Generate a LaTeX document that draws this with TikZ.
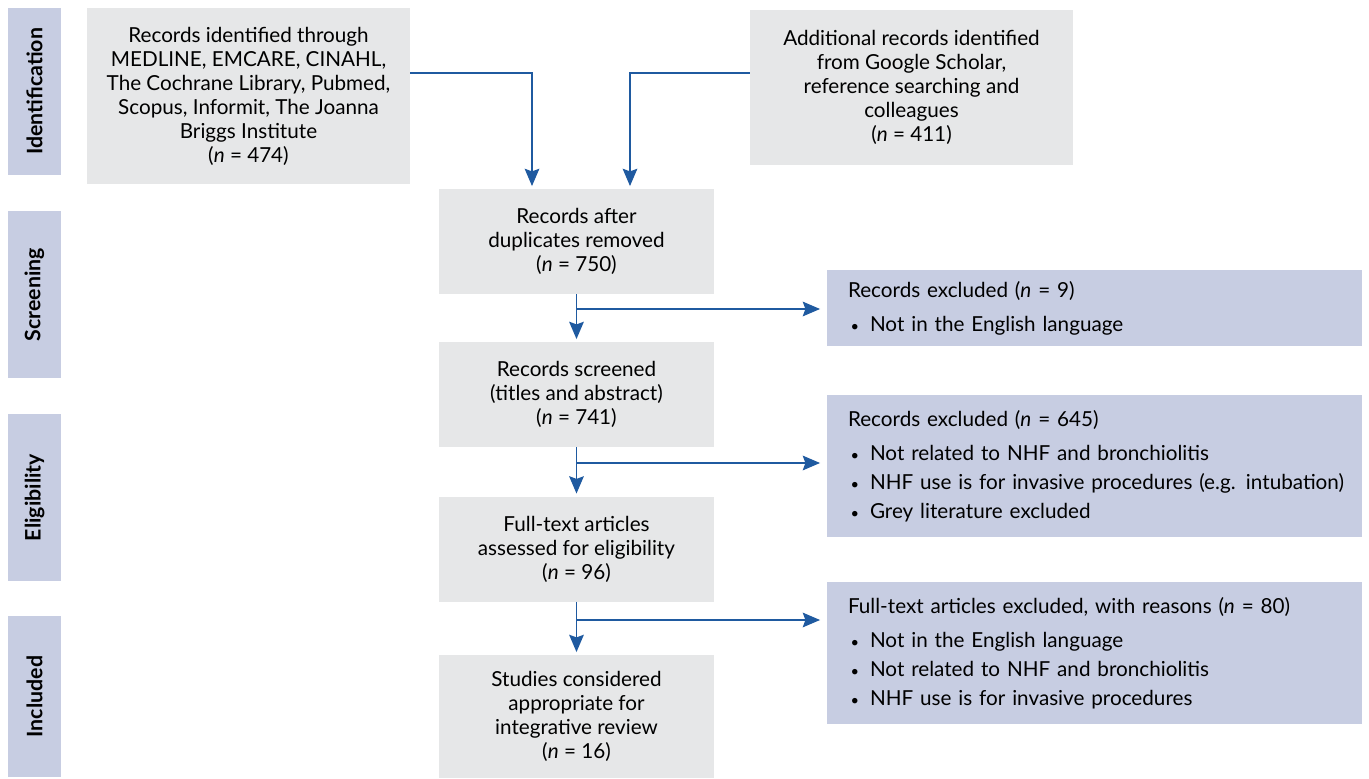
\documentclass[tikz,border=0pt]{standalone}
\usepackage{fontspec}
\setmainfont{Lato}
\usepackage{tikz}
\usetikzlibrary{arrows.meta,calc,positioning}
\definecolor{TabBlue}{RGB}{199,205,226}
\definecolor{BoxGrey}{RGB}{230,231,232}
\definecolor{FlowBlue}{RGB}{31,90,160}
\newcommand{\nn}[1]{(\textit{n} = #1)}
\newcommand{\bl}{\makebox[16.5pt][l]{\hspace{2pt}{\fontsize{11}{11}\selectfont\textbullet}}}

\begin{document}
\begin{tikzpicture}[x=0.75pt,y=-0.75pt,
  font=\fontsize{15.5}{18}\selectfont,
  tab/.style={fill=TabBlue,minimum width=125.25pt,minimum height=39.75pt,inner sep=0pt,font=\fontsize{16}{18}\selectfont\bfseries},
  rec/.style={fill=BoxGrey,align=center,inner sep=0pt,minimum width=206.25pt,minimum height=78.75pt},
  excl/.style={fill=TabBlue,align=left,inner xsep=15.75pt,inner ysep=0pt,text width=369.75pt,minimum height=106.5pt,font=\fontsize{15.5}{21.75}\selectfont},
  flow/.style={draw=FlowBlue,line width=1.1pt,-{Stealth[length=13pt,width=11pt,inset=2pt]},shorten >=2pt}]
\useasboundingbox (0,0) rectangle (1369,778);
% stage tabs
\node[tab,rotate=90] (tid) at (34.5,91.5) {Identification};
\node[tab,rotate=90] (tsc) at (34.5,294.5) {Screening};
\node[tab,rotate=90] (tel) at (34.5,497.5) {Eligibility};
\node[tab,rotate=90,minimum width=120.75pt] (tin) at (34.5,696.5) {Included};
% main boxes
\node[rec,minimum width=242.25pt,minimum height=132pt] (found) at (248.5,96) {Records identified through\\MEDLINE, EMCARE, CINAHL,\\The Cochrane Library, Pubmed,\\Scopus, Informit, The Joanna\\Briggs Institute\\\nn{474}};
\node[rec,minimum width=242.25pt,minimum height=116.25pt] (extra) at (911.5,87.5) {Additional records identified\\from Google Scholar,\\reference searching and\\colleagues\\\nn{411}};
\node[rec] (dup) at (576.5,241.5) {Records after\\duplicates removed\\\nn{750}};
\node[rec] (scr) at (576.5,394.5) {Records screened\\(titles and abstract)\\\nn{741}};
\node[rec] (full) at (576.5,549) {Full-text articles\\assessed for eligibility\\\nn{96}};
\node[rec,minimum height=92.25pt] (incl) at (576.5,716.5) {Studies considered\\appropriate for\\integrative review\\\nn{16}};
% exclusion boxes
\node[excl,minimum height=57pt] (ex1) at (1094.5,308) {Records excluded \nn{9}\\[3.75pt]\bl Not in the English language};
\node[excl] (ex2) at (1094.5,466) {Records excluded \nn{645}\\[3.75pt]\bl Not related to NHF and bronchiolitis\\\mbox{\bl NHF use is for invasive procedures (e.g. intubation)}\\\bl Grey literature excluded};
\node[excl] (ex3) at (1094.5,653) {Full-text articles excluded, with reasons \nn{80}\\[3.75pt]\bl Not in the English language\\\bl Not related to NHF and bronchiolitis\\\bl NHF use is for invasive procedures};
% connectors
\coordinate (jf) at (532,73);
\coordinate (je) at (630,73);
\draw[flow] (found.east |- jf) -- (jf) -- (dup.north -| jf);
\draw[flow] (extra.west |- je) -- (je) -- (dup.north -| je);
\draw[flow] (dup.south) -- (scr.north);
\draw[flow] (scr.south) -- (full.north);
\draw[flow] (full.south) -- (incl.north);
\coordinate (b1) at (576.5,309);
\coordinate (b2) at (576.5,463);
\coordinate (b3) at (576.5,620);
\draw[flow,shorten >=5pt] (b1) -- (b1 -| ex1.west);
\draw[flow,shorten >=5pt] (b2) -- (b2 -| ex2.west);
\draw[flow,shorten >=5pt] (b3) -- (b3 -| ex3.west);
\end{tikzpicture}
\end{document}
